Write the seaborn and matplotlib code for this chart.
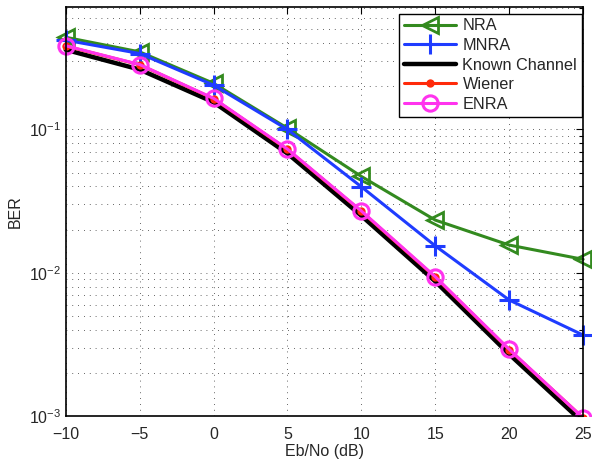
import numpy as np
import pandas as pd
import matplotlib
matplotlib.use("Agg")
import matplotlib.pyplot as plt
import seaborn as sns
from matplotlib.ticker import LogLocator
from matplotlib.patches import Rectangle

snr = [-10, -5, 0, 5, 10, 15, 20, 25]
nra = [0.44, 0.348, 0.21, 0.102, 0.047, 0.0233, 0.0156, 0.0124]
mnra = [0.42, 0.339, 0.204, 0.100, 0.0398, 0.0154, 0.00645, 0.00367]
known = [0.36, 0.262, 0.155, 0.068, 0.025, 0.0087, 0.0027, 0.00090]
wiener = [0.382, 0.283, 0.164, 0.0725, 0.0268, 0.0093, 0.0029, 0.00097]
enra = [0.384, 0.284, 0.165, 0.073, 0.027, 0.00938, 0.00292, 0.00097]
series_names = ["NRA", "MNRA", "Known Channel", "Wiener", "ENRA"]

sns.set_style("white")
plt.rcParams['font.family'] = ['Liberation Sans', 'DejaVu Sans']
plt.rcParams['mathtext.fontset'] = 'custom'
plt.rcParams['mathtext.rm'] = 'Liberation Sans'
plt.rcParams['mathtext.it'] = 'Liberation Sans'

fig = plt.figure(figsize=(5.92, 4.61), dpi=100)
ax = fig.add_axes([0.111, 0.0976, 0.874, 0.888])

styles = {
    "NRA": dict(color="#338a1f", marker="<", ms=11, mfc="none", mec="#338a1f", mew=2, lw=2.2),
    "MNRA": dict(color="#1f3cff", marker="+", ms=15, mfc="#1f3cff", mec="#1f3cff", mew=2.2, lw=2.2),
    "Known Channel": dict(color="black", marker="None", ms=0, mfc="black", mec="black", mew=0, lw=3.2),
    "Wiener": dict(color="#ff2a0a", marker="o", ms=6, mfc="#ff2a0a", mec="#ff2a0a", mew=0, lw=2.2),
    "ENRA": dict(color="#ff33ee", marker="o", ms=11, mfc="none", mec="#ff33ee", mew=2.2, lw=2.2),
}
values = {"NRA": nra, "MNRA": mnra, "Known Channel": known, "Wiener": wiener, "ENRA": enra}

handles = []
for name in series_names:
    df = pd.DataFrame({"x": snr, "y": values[name]})
    st = styles[name]
    n0 = len(ax.lines)
    sns.lineplot(data=df, x="x", y="y", ax=ax, color=st["color"], linewidth=st["lw"],
                 legend=False, errorbar=None)
    line = ax.lines[n0]
    line.set_linestyle("-")
    line.set_marker(st["marker"])
    line.set_markersize(st["ms"])
    line.set_markerfacecolor(st["mfc"])
    line.set_markeredgecolor(st["mec"])
    line.set_markeredgewidth(st["mew"])
    line.set_label(name)
    # clip only below the axes (points under 1e-3 disappear), keep edge markers whole
    clip_rect = Rectangle((-0.06, 0.0), 1.12, 1.1, transform=ax.transAxes, visible=False)
    line.set_clip_path(clip_rect)
    line.set_clip_on(True)
    handles.append(line)

ax.set_yscale("log")
ax.set_xlim(-10, 25)
ax.set_ylim(1e-3, 0.72)
ax.set_xticks([-10, -5, 0, 5, 10, 15, 20, 25])
ax.set_xticklabels(["\u221210", "\u22125", "0", "5", "10", "15", "20", "25"])
ax.yaxis.set_major_locator(LogLocator(base=10, numticks=10))
ax.yaxis.set_minor_locator(LogLocator(base=10, subs=np.arange(2, 10), numticks=20))
grid_ls = (0, (1, 6))
ax.grid(True, which="major", axis="both", linestyle=grid_ls, color="#333333", linewidth=0.6)
ax.grid(True, which="minor", axis="y", linestyle=grid_ls, color="#333333", linewidth=0.6)
ax.tick_params(which="both", direction="in", top=True, right=True, labelsize=11.5, length=5, width=0.8, color="black")
ax.tick_params(which="minor", length=3)
ax.tick_params(axis="x", pad=8)
for s in ax.spines.values():
    s.set_color("black")
    s.set_linewidth(1.2)
ax.set_xlabel("Eb/No (dB)", fontsize=11.5, labelpad=1)
ax.set_ylabel("BER", fontsize=11.5, labelpad=4)

leg = ax.legend(handles=handles, labels=series_names, loc="upper right",
                bbox_to_anchor=(0.998, 0.983), fontsize=11.7, frameon=True, fancybox=False,
                edgecolor="black", handlelength=3.2, borderpad=0.3, labelspacing=0.28,
                handletextpad=0.4, borderaxespad=0.0, framealpha=1)
leg.get_frame().set_linewidth(1.0)
leg.set_zorder(10)

fig.savefig("out.png", dpi=100)
